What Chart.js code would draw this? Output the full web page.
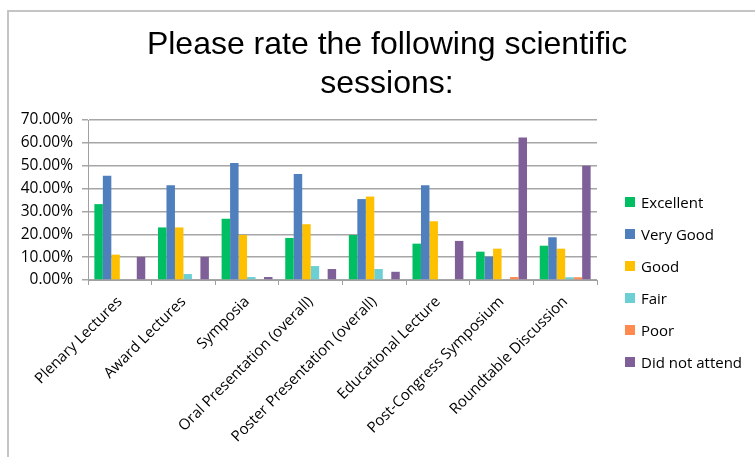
<!DOCTYPE html>
<html>
<head>
<meta charset="utf-8">
<script src="https://cdn.jsdelivr.net/npm/chart.js@4.4.0/dist/chart.umd.min.js"></script>
<style>
  html, body { margin: 0; padding: 0; background: #fff; overflow: hidden; }
  #wrap { position: relative; width: 755px; height: 457px; }
  #frame { position: absolute; left: 7px; top: 10px; right: -10px; bottom: -10px;
           border-top: 2px solid #c4c4c4; border-left: 2px solid #c4c4c4; }
  #title { position: absolute; left: 0; width: 774px; top: 24px; text-align: center;
           font: 32px 'Liberation Sans', Arial, sans-serif; line-height: 39px; color: #000; }
  canvas { position: absolute; left: 0; top: 0; }
  #legend { position: absolute; left: 625px; top: 186px; font: 15px 'Open Sans', sans-serif; color: #000; }
  .item { height: 32px; display: flex; align-items: center; white-space: nowrap; }
  .box { width: 10px; height: 10px; margin-right: 6px; }
</style>
</head>
<body>
<div id="wrap">
  <div id="frame"></div>
  <canvas id="chart" width="755" height="457"></canvas>
  <div id="title">Please rate the following scientific<br>sessions:</div>
  <div id="legend"></div>
</div>
<script>
const categories = ['Plenary Lectures', 'Award Lectures', 'Symposia', 'Oral Presentation (overall)',
    'Poster Presentation (overall)', 'Educational Lecture', 'Post-Congress Symposium', 'Roundtable Discussion'];

const seriesNames = ['Excellent', 'Very Good', 'Good', 'Fair', 'Poor', 'Did not attend'];
const seriesColors = ['#00bf63', '#4f7fbd', '#ffc000', '#6ccfd3', '#ff8a4f', '#7f5f98'];

const excellent = [33.2, 23.0, 26.8, 18.4, 19.7, 15.9, 12.4, 15.0];
const veryGood = [45.6, 41.4, 51.2, 46.4, 35.4, 41.4, 10.2, 18.7];
const good = [11.1, 23.0, 19.7, 24.4, 36.5, 25.7, 13.7, 13.7];
const fair = [0, 2.6, 1.3, 6.1, 4.8, 0, 0, 1.2];
const poor = [0, 0, 0, 0, 0, 0, 1.3, 1.2];
const didNotAttend = [10.1, 10.1, 1.3, 4.8, 3.6, 17.1, 62.3, 50.0];

const yTicks = [0, 10, 20, 30, 40, 50, 60, 70];

const seriesValues = [excellent, veryGood, good, fair, poor, didNotAttend];

const tickFont = { family: "'Open Sans', sans-serif", size: 15 };

const datasets = seriesNames.map((name, i) => ({
    label: name,
    data: seriesValues[i],
    backgroundColor: seriesColors[i],
    categoryPercentage: 0.8,
    barPercentage: 1.0
}));

// legend on the right
const legendEl = document.getElementById('legend');
seriesNames.forEach((name, i) => {
    const item = document.createElement('div');
    item.className = 'item';
    const box = document.createElement('span');
    box.className = 'box';
    box.style.background = seriesColors[i];
    item.appendChild(box);
    item.appendChild(document.createTextNode(name));
    legendEl.appendChild(item);
});

new Chart(document.getElementById('chart').getContext('2d'), {
    type: 'bar',
    data: { labels: categories, datasets: datasets },
    options: {
        responsive: false,
        animation: false,
        layout: { padding: { top: 120, left: 10, right: 158, bottom: 0 } },
        plugins: {
            legend: { display: false },
            title: { display: false },
            tooltip: { enabled: false }
        },
        scales: {
            x: {
                grid: { display: true, drawOnChartArea: false, drawTicks: true, tickLength: 5, color: '#a0a0a0' },
                border: { color: '#a0a0a0', width: 1 },
                ticks: { font: tickFont, color: '#000', minRotation: 45, maxRotation: 45, autoSkip: false, padding: 8 },
                afterFit: (scale) => { scale.height = 177; }
            },
            y: {
                min: 0,
                max: 70,
                afterBuildTicks: (scale) => { scale.ticks = yTicks.map(v => ({ value: v })); },
                grid: { color: '#a6a6a6', lineWidth: 1.5, tickLength: 6 },
                border: { color: '#a0a0a0', width: 1 },
                ticks: { font: { family: "'Open Sans', sans-serif", size: 15.5 }, color: '#000', padding: 9,
                         callback: (v) => v.toFixed(2) + '%' },
                afterFit: (scale) => { scale.width = 78; }
            }
        }
    }
});
</script>
</body>
</html>
